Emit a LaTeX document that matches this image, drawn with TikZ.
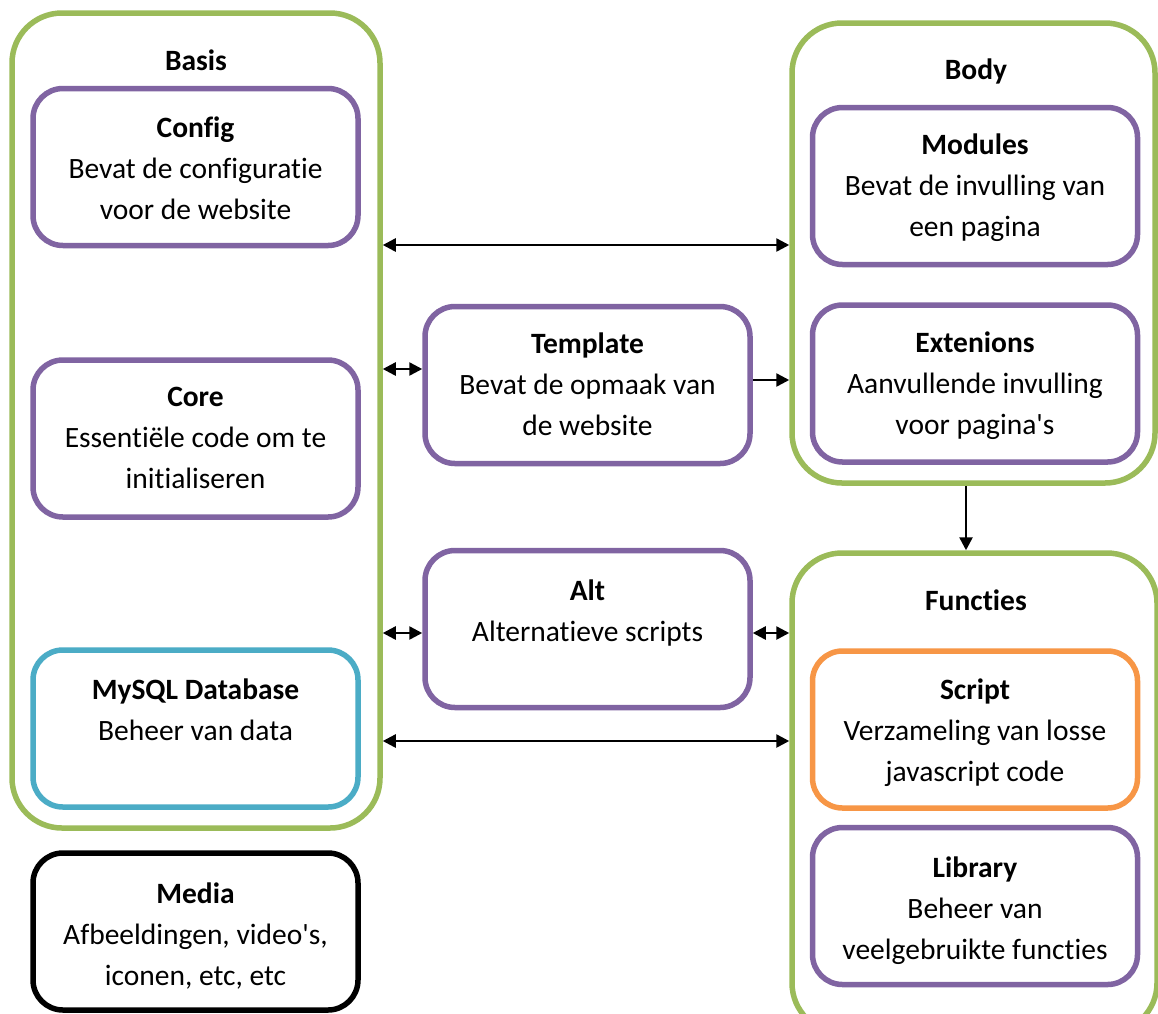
\documentclass[tikz,border=0pt]{standalone}
\usepackage{fontspec}
\setmainfont{Carlito}[Ligatures={NoCommon}]
\usetikzlibrary{arrows.meta}
\definecolor{grp}{HTML}{9BBB59}
\definecolor{prp}{HTML}{8064A2}
\definecolor{blu}{HTML}{4BACC6}
\definecolor{org}{HTML}{F79646}
\begin{document}
\begin{tikzpicture}[x=1pt,y=-1pt,
  group/.style={draw=grp,line width=5.5pt,rounded corners=50pt,inner sep=0pt,fill=white},
  card/.style={draw=prp,line width=5.5pt,rounded corners=30pt,inner sep=0pt,
    minimum width=325pt,minimum height=157pt,fill=white},
  txt/.style={align=center,inner sep=0pt,font=\fontsize{29.5}{41}\selectfont},
  ttl/.style={inner sep=0pt,font=\fontsize{29.5}{41}\selectfont\bfseries},
  link/.style={line width=2.5pt,-{Triangle[length=13pt,width=13pt]}},
  both/.style={line width=2.5pt,{Triangle[length=13pt,width=13pt]}-{Triangle[length=13pt,width=13pt]}}]
\useasboundingbox (0,0) rectangle (1158,1013);
\clip (0,0) rectangle (1158,1013);

% group frames
\node[group,minimum width=368pt,minimum height=815pt] (basis) at (196,420.5) {};
\node[group,minimum width=363pt,minimum height=460pt] (body) at (973.5,253) {};
\node[group,minimum width=365pt,minimum height=480pt] (functies) at (974.5,793) {};

\node[ttl] (basist) at (196,60) {Basis};
\node[ttl] (bodyt) at (976,71) {Body};
\node[ttl] (functiest) at (976,600) {Functies};

% cards in Basis
\node[card] (config) at (195.5,167) {};
\node[txt] (configt) at (195.5,168) {\textbf{Config}\\Bevat de configuratie\\voor de website};
\node[card] (core) at (195.5,438.5) {};
\node[txt] (coret) at (195.5,438) {\textbf{Core}\\Essentiële code om te\\initialiseren};
\node[card,draw=blu] (mysql) at (195.5,728.5) {};
\node[txt] (mysqlt) at (195.5,710) {\textbf{MySQL Database}\\Beheer van data};

% media, outside the frames
\node[card,draw=black] (media) at (195.5,931.5) {};
\node[txt] (mediat) at (195.5,936) {\textbf{Media}\\Afbeeldingen, video\textquotesingle s,\\iconen, etc, etc};

% middle column
\node[card] (template) at (587.5,385) {};
\node[txt] (templatet) at (587.5,384) {\textbf{Template}\\Bevat de opmaak van\\de website};
\node[card] (alt) at (587.5,629) {};
\node[txt] (altt) at (587.5,613) {\textbf{Alt}\\Alternatieve scripts};

% cards in Body
\node[card] (modules) at (975,186) {};
\node[txt] (modulest) at (975,188) {\textbf{Modules}\\Bevat de invulling van\\een pagina};
\node[card] (ext) at (975,383.5) {};
\node[txt] (extt) at (975,386) {\textbf{Extenions}\\Aanvullende invulling\\voor pagina\textquotesingle s};

% cards in Functies
\node[card,draw=org] (script) at (975,729.5) {};
\node[txt] (scriptt) at (975,733) {\textbf{Script}\\Verzameling van losse\\javascript code};
\node[card] (library) at (975,906) {};
\node[txt] (libraryt) at (975,911) {\textbf{Library}\\Beheer van\\veelgebruikte functies};

% connectors
\draw[both] (basis.east |- 0,245) -- (body.west |- 0,245);
\draw[both] (basis.east |- 0,369) -- (template.west |- 0,369);
\draw[link] (template.east |- 0,380) -- (body.west |- 0,380);
\draw[link] (body.south -| 966,0) -- (functies.north -| 966,0);
\draw[both] (basis.east |- 0,633) -- (alt.west |- 0,633);
\draw[both] (alt.east |- 0,633) -- (functies.west |- 0,633);
\draw[both] (basis.east |- 0,741) -- (functies.west |- 0,741);
\end{tikzpicture}
\end{document}
